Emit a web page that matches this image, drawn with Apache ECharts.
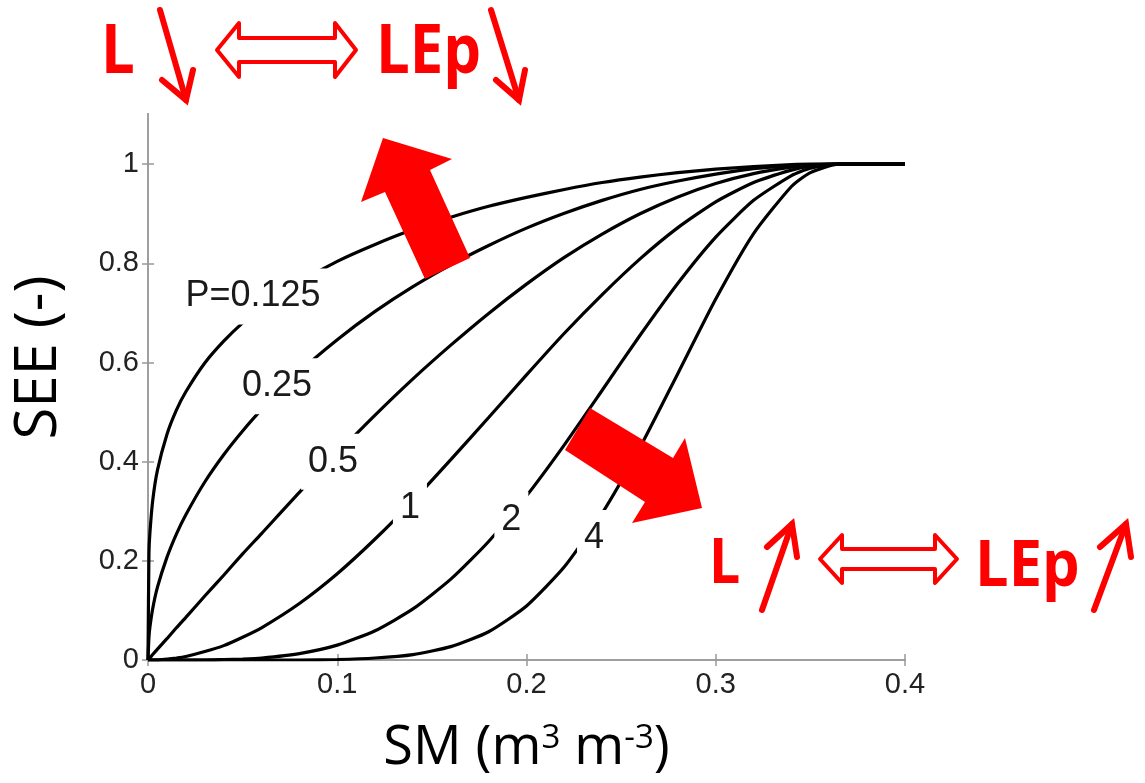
<!DOCTYPE html>
<html>
<head>
<meta charset="utf-8">
<script src="https://cdn.jsdelivr.net/npm/echarts@6/dist/echarts.min.js"></script>
<style>
html,body{margin:0;padding:0;background:#fff;}
#chart{width:1145px;height:783px;}
</style>
</head>
<body>
<div id="chart"></div>
<script>
// Soil moisture (x) sample positions
const SM = [0, 0.0005, 0.001, 0.0025, 0.005, 0.01, 0.015, 0.02, 0.03, 0.04, 0.05, 0.06, 0.08, 0.10, 0.12, 0.14, 0.16, 0.18, 0.20, 0.22, 0.24, 0.26, 0.28, 0.30, 0.32, 0.34, 0.35, 0.365, 0.40];
// SEE values read for each curve
const SEE_P0125 = [0, 0.215, 0.256, 0.322, 0.383, 0.455, 0.504, 0.541, 0.599, 0.643, 0.680, 0.711, 0.762, 0.804, 0.838, 0.868, 0.893, 0.915, 0.933, 0.949, 0.963, 0.974, 0.983, 0.990, 0.995, 0.999, 1.000, 1, 1];
const SEE_P025  = [0, 0.046, 0.066, 0.104, 0.147, 0.207, 0.254, 0.293, 0.359, 0.414, 0.462, 0.505, 0.581, 0.646, 0.703, 0.753, 0.797, 0.836, 0.871, 0.901, 0.927, 0.949, 0.966, 0.980, 0.991, 0.997, 0.999, 1, 1];
const SEE_P05   = [0, 0.002, 0.004, 0.011, 0.022, 0.043, 0.065, 0.086, 0.129, 0.171, 0.214, 0.255, 0.338, 0.417, 0.494, 0.567, 0.635, 0.699, 0.758, 0.812, 0.859, 0.900, 0.934, 0.961, 0.981, 0.994, 0.998, 1, 1];
const SEE_P1    = [0, 0, 0, 0, 0, 0.002, 0.004, 0.007, 0.017, 0.029, 0.046, 0.065, 0.114, 0.174, 0.244, 0.321, 0.404, 0.489, 0.575, 0.659, 0.737, 0.809, 0.872, 0.924, 0.963, 0.988, 0.996, 1, 1];
const SEE_P2    = [0, 0, 0, 0, 0, 0, 0, 0, 0, 0.001, 0.002, 0.004, 0.013, 0.030, 0.059, 0.103, 0.163, 0.239, 0.331, 0.434, 0.544, 0.655, 0.760, 0.853, 0.927, 0.977, 0.992, 1, 1];
const SEE_P4    = [0, 0, 0, 0, 0, 0, 0, 0, 0, 0, 0, 0, 0, 0.001, 0.004, 0.011, 0.027, 0.057, 0.109, 0.188, 0.296, 0.429, 0.578, 0.728, 0.860, 0.955, 0.983, 1, 1];

// Curve labels and where they sit (data units)
const curveLabels = ['P=0.125', '0.25', '0.5', '1', '2', '4'];
const labelSM  = [0.0555, 0.0682, 0.0978, 0.1384, 0.1920, 0.2357];
const labelSEE = [0.733, 0.552, 0.400, 0.307, 0.283, 0.246];

const curves = [SEE_P0125, SEE_P025, SEE_P05, SEE_P1, SEE_P2, SEE_P4];

const lineSeries = curves.map(vals => ({
  type: 'line',
  data: SM.map((x, i) => [x, vals[i]]),
  showSymbol: false,
  smooth: 0.2,
  lineStyle: { color: '#000', width: 3.2 },
  z: 2,
  silent: true
}));

const labelSeries = {
  type: 'scatter',
  data: curveLabels.map((t, i) => [labelSM[i], labelSEE[i], t]),
  symbolSize: 1,
  itemStyle: { color: 'rgba(0,0,0,0)', opacity: 1 },
  z: 5,
  silent: true,
  label: {
    show: true,
    position: 'inside',
    formatter: p => p.data[2],
    fontFamily: 'Liberation Sans',
    fontSize: 36,
    color: '#1a1a1a',
    opacity: 1,
    backgroundColor: '#ffffff',
    padding: [10, 7]
  }
};

const axisLineStyle = { color: '#999', width: 1.5 };
const tickFont = { fontFamily: 'Liberation Sans', fontSize: 29, color: '#222' };

const RED = '#ff0000';
function hollowDoubleArrow(x0, x1, xh0, xh1, yc, headHalf, shaftHalf) {
  return [[x0, yc], [xh0, yc - headHalf], [xh0, yc - shaftHalf], [xh1, yc - shaftHalf], [xh1, yc - headHalf], [x1, yc],
          [xh1, yc + headHalf], [xh1, yc + shaftHalf], [xh0, yc + shaftHalf], [xh0, yc + headHalf]];
}

const graphics = [
  // white background panels of the pasted annotations
  { type: 'rect', shape: { x: 0, y: 0, width: 565, height: 113 }, style: { fill: '#fff' }, z: 100, silent: true },
  { type: 'rect', shape: { x: 690, y: 507, width: 455, height: 121 }, style: { fill: '#fff' }, z: 100, silent: true },

  // top annotation
  { type: 'text', x: 101, y: 20, scaleX: 0.88, z: 110, style: { text: 'L', x: 0, y: 0, fill: RED, font: 'bold 68px "Open Sans"' } },
  { type: 'polyline', z: 110, shape: { points: [[160, 10], [186, 100]] }, style: { stroke: RED, lineWidth: 6, lineCap: 'round' } },
  { type: 'polyline', z: 110, shape: { points: [[162, 80], [186, 100], [193, 70]] }, style: { stroke: RED, lineWidth: 6, lineCap: 'round', fill: null } },
  { type: 'polygon', z: 110, shape: { points: hollowDoubleArrow(217, 356, 239, 335, 50, 27, 12) }, style: { fill: '#fff', stroke: RED, lineWidth: 4, lineJoin: 'round' } },
  { type: 'text', x: 376, y: 20, scaleX: 0.88, z: 110, style: { text: 'LEp', x: 0, y: 0, fill: RED, font: 'bold 68px "Open Sans"' } },
  { type: 'polyline', z: 110, shape: { points: [[491, 10], [519, 100]] }, style: { stroke: RED, lineWidth: 6, lineCap: 'round' } },
  { type: 'polyline', z: 110, shape: { points: [[496, 80], [519, 100], [525, 70]] }, style: { stroke: RED, lineWidth: 6, lineCap: 'round', fill: null } },

  // bottom annotation
  { type: 'text', x: 709, y: 534, scaleX: 0.88, z: 110, style: { text: 'L', x: 0, y: 0, fill: RED, font: 'bold 63px "Open Sans"' } },
  { type: 'polyline', z: 110, shape: { points: [[762, 610], [792, 524]] }, style: { stroke: RED, lineWidth: 6, lineCap: 'round' } },
  { type: 'polyline', z: 110, shape: { points: [[767, 547], [792, 524], [797, 557]] }, style: { stroke: RED, lineWidth: 6, lineCap: 'round', fill: null } },
  { type: 'polygon', z: 110, shape: { points: hollowDoubleArrow(820, 957, 842, 935, 559, 24, 10) }, style: { fill: '#fff', stroke: RED, lineWidth: 4, lineJoin: 'round' } },
  { type: 'text', x: 975, y: 536, scaleX: 0.93, z: 110, style: { text: 'LEp', x: 0, y: 0, fill: RED, font: 'bold 64px "Open Sans"' } },
  { type: 'polyline', z: 110, shape: { points: [[1094, 610], [1126, 524]] }, style: { stroke: RED, lineWidth: 6, lineCap: 'round' } },
  { type: 'polyline', z: 110, shape: { points: [[1100, 547], [1126, 524], [1131, 557]] }, style: { stroke: RED, lineWidth: 6, lineCap: 'round', fill: null } },

  // big block arrows
  { type: 'polygon', z: 110, shape: { points: [[425, 279], [470, 258], [430, 170], [452, 159], [383, 138], [361, 202], [385, 192]] }, style: { fill: RED } },
  { type: 'polygon', z: 110, shape: { points: [[590, 408], [565, 450], [645, 502], [632, 523], [702, 508], [685, 438], [673, 458]] }, style: { fill: RED } }
];

const chart = echarts.init(document.getElementById('chart'), null, { renderer: 'canvas' });
chart.setOption({
  animation: false,
  backgroundColor: '#fff',
  grid: { left: 148, right: 240, top: 65, bottom: 123, show: false },
  xAxis: [
    {
      type: 'value', min: 0, max: 0.4, interval: 0.1, position: 'bottom',
      axisLine: { show: true, lineStyle: axisLineStyle },
      axisTick: { show: true, inside: true, length: 6, lineStyle: axisLineStyle },
      axisLabel: Object.assign({ margin: 10 }, tickFont),
      splitLine: { show: false },
      name: 'SM (m{sup|3} m{sup|-3})',
      nameLocation: 'middle',
      nameGap: 62,
      nameTextStyle: {
        fontFamily: 'Open Sans', fontSize: 54, color: '#000',
        rich: { sup: { fontFamily: 'Open Sans', fontSize: 33, color: '#000', verticalAlign: 'top', lineHeight: 54 } }
      }
    },
    {
      type: 'value', min: 0, max: 0.4, interval: 0.1, position: 'top',
      axisLine: { show: true, lineStyle: axisLineStyle },
      axisTick: { show: true, inside: true, length: 6, lineStyle: axisLineStyle },
      axisLabel: { show: false },
      splitLine: { show: false }
    }
  ],
  yAxis: [
    {
      type: 'value', min: 0, max: 1.2, interval: 0.2, position: 'left',
      axisLine: { show: true, lineStyle: axisLineStyle },
      axisTick: { show: true, inside: true, length: 6, lineStyle: axisLineStyle },
      axisLabel: Object.assign({ margin: 9 }, tickFont),
      splitLine: { show: false },
      name: 'SEE (-)',
      nameLocation: 'middle',
      nameGap: 80,
      nameRotate: 90,
      nameTextStyle: { fontFamily: 'Open Sans', fontSize: 58, color: '#000', padding: [0, 0, 0, 10] }
    },
    {
      type: 'value', min: 0, max: 1.2, interval: 0.2, position: 'right',
      axisLine: { show: true, lineStyle: axisLineStyle },
      axisTick: { show: true, inside: true, length: 6, lineStyle: axisLineStyle },
      axisLabel: { show: false },
      splitLine: { show: false }
    }
  ],
  series: lineSeries.concat([labelSeries]),
  graphic: graphics
});
</script>
</body>
</html>
